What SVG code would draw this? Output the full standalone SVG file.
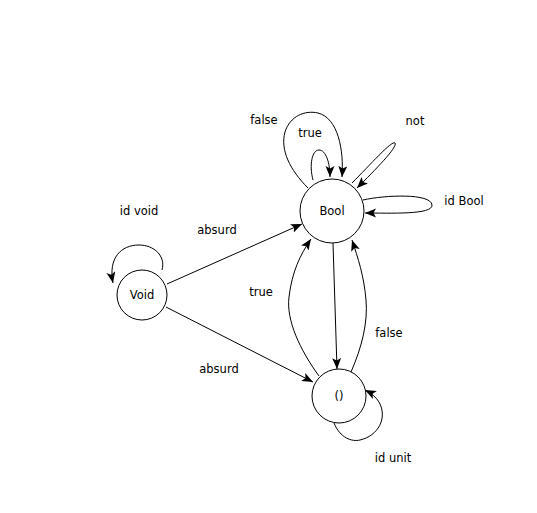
<svg xmlns="http://www.w3.org/2000/svg" width="537" height="513" viewBox="0 0 537 513">
<style>
.n{fill:#fff;stroke:#000;stroke-width:1}
.e{fill:none;stroke:#000;stroke-width:1;marker-end:url(#a)}
text{font-family:"DejaVu Sans","Liberation Sans",sans-serif;font-size:11.5px;fill:#000;text-anchor:middle}
</style>
<defs>
<marker id="a" markerUnits="userSpaceOnUse" markerWidth="12" markerHeight="10" refX="11" refY="4.5" orient="auto">
<path d="M0,0 L11,4.5 L0,9 L2.5,4.5 Z" fill="#000"/>
</marker>
</defs>
<rect width="537" height="513" fill="#fff"/>
<g id="edges">
<path class="e" d="M167,284 L302,224"/>
<path class="e" d="M166,307 L313,382"/>
<path class="e" d="M333,243 L337,369"/>
<path class="e" d="M319,376 C300,350 286,320 289,297 C292,272 300,255 311,239"/>
<path class="e" d="M351,372 C362,347 368,322 366,300 C364,276 358,258 352,240"/>
<path class="e" d="M334,423 C340,438 352,442 360,440 C378,436 388,418 379,402 C376,397 371,393 365,390"/>
<path class="e" d="M162,270 C166,256 154,245 139,245 C121,245 108,258 113,283"/>
<path class="e" d="M313,180 C309,165 312,150 319,150 C326,150 330,163 330,177"/>
<path class="e" d="M308,188 C290,170 280,150 285,132 C290,116 305,110 318,113 C338,118 344,150 342,177"/>
<path class="e" d="M352,183 C370,165 392,140 395,143 C398,147 375,170 357,188"/>
<path class="e" d="M363,200 C385,195 431,193 432,205 C433,215 390,213 365,213"/>
</g>
<g id="Bool"><circle class="n" cx="332" cy="211" r="32"/><text x="332" y="215">Bool</text></g>
<g id="Void"><circle class="n" cx="142" cy="295" r="25"/><text x="142" y="299">Void</text></g>
<g id="unit"><circle class="n" cx="339" cy="396" r="27"/><text x="339" y="400">()</text></g>
<g id="labels">
<text x="264" y="124">false</text>
<text x="310" y="137">true</text>
<text x="415" y="125">not</text>
<text x="464" y="205">id Bool</text>
<text x="139" y="215">id void</text>
<text x="217" y="234">absurd</text>
<text x="261" y="296">true</text>
<text x="389" y="337">false</text>
<text x="219" y="373">absurd</text>
<text x="393" y="462">id unit</text>
</g>
</svg>
